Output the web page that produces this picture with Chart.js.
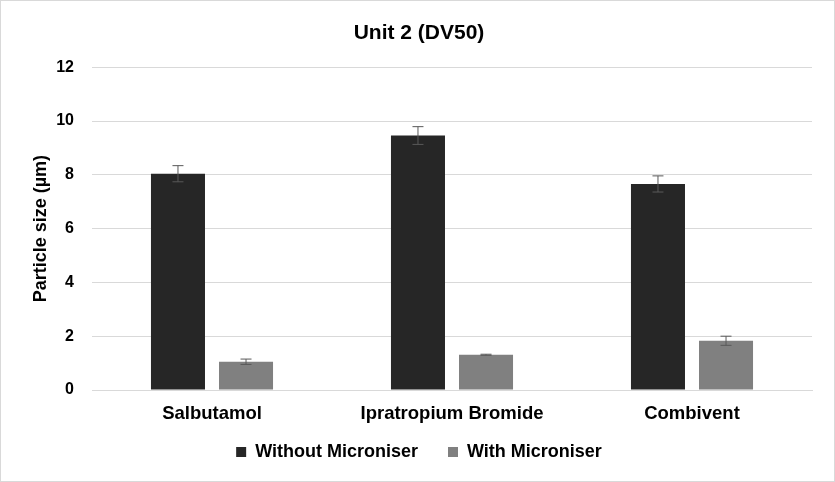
<!DOCTYPE html>
<html>
<head>
<meta charset="utf-8">
<script src="https://cdn.jsdelivr.net/npm/chart.js@4"></script>
<style>
  html, body { margin: 0; padding: 0; background: #fff; }
  #wrap { width: 833px; height: 480px; border: 1px solid #d9d9d9; }
</style>
</head>
<body>
<div id="wrap"><canvas id="chart" width="833" height="480"></canvas></div>
<script>
// Unit 2 (DV50)
var categories = ['Salbutamol', 'Ipratropium Bromide', 'Combivent'];
var withoutMicroniser = [8.04, 9.46, 7.66];
var withoutErr = [0.3, 0.33, 0.3];
var withMicroniser = [1.05, 1.31, 1.83];
var withErr = [0.1, 0.02, 0.17];
var yTicks = [0, 2, 4, 6, 8, 10, 12];

// error bars drawn from the y scale
var errorBars = {
    id: 'errorBars',
    afterDatasetsDraw: function(chart) {
        var ctx = chart.ctx;
        var y = chart.scales.y;
        chart.data.datasets.forEach(function(ds, i) {
            var meta = chart.getDatasetMeta(i);
            meta.data.forEach(function(bar, j) {
                var v = ds.data[j], e = ds.errors[j];
                var top = y.getPixelForValue(v + e);
                var bot = y.getPixelForValue(v - e);
                ctx.save();
                ctx.strokeStyle = '#595959';
                ctx.lineWidth = 1;
                ctx.beginPath();
                ctx.moveTo(bar.x, top); ctx.lineTo(bar.x, bot);
                ctx.moveTo(bar.x - 5.5, top); ctx.lineTo(bar.x + 5.5, top);
                ctx.moveTo(bar.x - 5.5, bot); ctx.lineTo(bar.x + 5.5, bot);
                ctx.stroke();
                ctx.restore();
            });
        });
    }
};

var ctx = document.getElementById('chart').getContext('2d');
var chart = new Chart(ctx, {
    type: 'bar',
    data: {
        labels: categories,
        datasets: [{
            label: 'Without Microniser    ',
            data: withoutMicroniser,
            errors: withoutErr,
            backgroundColor: '#262626',
            categoryPercentage: 0.567,
            barPercentage: 0.794
        }, {
            label: 'With Microniser',
            data: withMicroniser,
            errors: withErr,
            backgroundColor: '#808080',
            categoryPercentage: 0.567,
            barPercentage: 0.794
        }]
    },
    options: {
        responsive: false,
        animation: false,
        layout: { padding: { left: 25, right: 22, top: 10, bottom: 10 } },
        plugins: {
            title: {
                display: true,
                text: 'Unit 2 (DV50)',
                color: '#000',
                font: { family: 'Liberation Sans', size: 21, weight: 'bold' },
                padding: { top: 10, bottom: 21 }
            },
            legend: {
                position: 'bottom',
                labels: {
                    color: '#000',
                    boxWidth: 10,
                    boxHeight: 10,
                    padding: 10,
                    font: { family: 'Liberation Sans', size: 18, weight: 'bold' }
                }
            },
            tooltip: { enabled: false }
        },
        scales: {
            x: {
                grid: { display: false },
                border: { color: '#d9d9d9' },
                afterFit: function(axis) { axis.height = 43; },
                ticks: {
                    color: '#000',
                    padding: 5,
                    font: { family: 'Liberation Sans', size: 18.5, weight: 'bold' }
                }
            },
            y: {
                min: 0,
                max: 12,
                afterBuildTicks: function(axis) {
                    axis.ticks = yTicks.map(function(v) { return { value: v }; });
                },
                afterFit: function(axis) { axis.width = 66; },
                grid: { color: '#d9d9d9', drawTicks: false },
                border: { display: false },
                ticks: {
                    color: '#000',
                    padding: 18,
                    font: { family: 'Liberation Sans', size: 16, weight: 'bold' }
                },
                title: {
                    display: true,
                    text: 'Particle size (µm)',
                    color: '#000',
                    font: { family: 'Liberation Sans', size: 18, weight: 'bold' }
                }
            }
        }
    },
    plugins: [errorBars]
});
</script>
</body>
</html>
